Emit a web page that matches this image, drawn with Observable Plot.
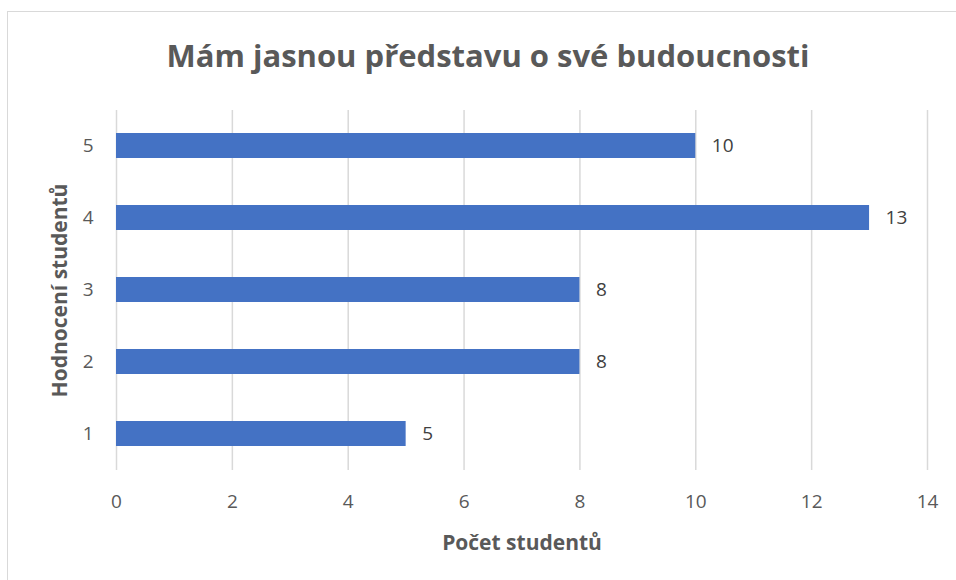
<!DOCTYPE html>
<html>
<head>
<meta charset="utf-8">
<script src="https://cdn.jsdelivr.net/npm/d3@7"></script>
<script src="https://cdn.jsdelivr.net/npm/@observablehq/plot@0.6"></script>
<style>
  html, body { margin: 0; padding: 0; background: #fff; }
  #wrap { position: relative; width: 956px; height: 580px; overflow: hidden; font-family: "Open Sans", sans-serif; }
  #border { position: absolute; left: 7px; top: 11px; width: 1000px; height: 1000px; border: 1px solid #d9d9d9; box-sizing: border-box; }
  #chart { position: absolute; left: 0; top: 0; }
</style>
</head>
<body>
<div id="wrap"><div id="border"></div><div id="chart"></div></div>
<script>
const title = "Mám jasnou představu o své budoucnosti";
const xTitle = "Počet studentů";
const yTitle = "Hodnocení studentů";
const ratings = ["5", "4", "3", "2", "1"];
const counts = [10, 13, 8, 8, 5];
const xTicks = [0, 2, 4, 6, 8, 10, 12, 14];

const data = ratings.map((r, i) => ({rating: r, count: counts[i]}));

const chart = Plot.plot({
  width: 956,
  height: 580,
  marginTop: 110,
  marginBottom: 110,
  marginLeft: 116,
  marginRight: 29,
  style: {fontFamily: "Open Sans, sans-serif", fontSize: "18px", color: "#595959", background: "transparent"},
  x: {domain: [0, 14], ticks: xTicks, label: null},
  y: {domain: ratings, paddingInner: 0.65, paddingOuter: 0.325, label: null},
  marks: [
    Plot.gridX(xTicks, {stroke: "#d9d9d9", strokeOpacity: 1, strokeWidth: 1.5}),
    Plot.barX(data, {x: "count", y: "rating", fill: "#4472C4"}),
    Plot.text(data, {x: "count", y: "rating", text: d => String(d.count), textAnchor: "start", dx: 16, fill: "#404040", fontSize: 19}),
    Plot.axisX(xTicks, {tickSize: 0, tickPadding: 24, fill: "#595959", fontSize: 19, label: null}),
    Plot.axisY({tickSize: 0, tickPadding: 23, fill: "#595959", fontSize: 19, label: null}),
    Plot.text([title], {frameAnchor: "top", lineAnchor: "middle", dx: -34, dy: -53, fontSize: 31, fontWeight: "bold", fill: "#595959"}),
    Plot.text([xTitle], {frameAnchor: "bottom", lineAnchor: "middle", dy: 73, fontSize: 21, fontWeight: "bold", fill: "#595959"}),
    Plot.text([yTitle], {frameAnchor: "left", textAnchor: "middle", lineAnchor: "middle", dx: -56, rotate: -90, fontSize: 21, fontWeight: "bold", fill: "#595959"})
  ]
});
document.getElementById("chart").appendChild(chart);
</script>
</body>
</html>
